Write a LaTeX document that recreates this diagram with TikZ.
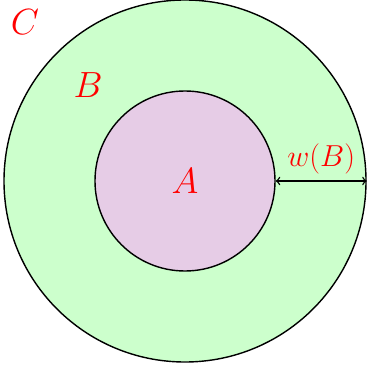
\documentclass[tikz,border=0pt]{standalone}
\begin{document}
\begin{tikzpicture}[x=0.02cm,y=0.02cm]
			\definecolor{setgreen}{RGB}{204,255,204};\definecolor{setpurple}{RGB}{230,204,230};
			\tikzset{setlabel/.style={text=red,font=\huge},
				setdisk/.style={circle,draw,thick,inner sep=0pt}}
			\useasboundingbox (-185,-190) rectangle (182,181);
			\node[setdisk,fill=setgreen,minimum size=362*0.02cm] (outer) at (0,0) {};
			\node[setdisk,fill=setpurple,minimum size=180*0.02cm] (inner) at (0,0) {};
			\node[setlabel] (A) at (0,0) {$A$};
			\node[setlabel] (B) at (-97,96) {$B$};
			\node[setlabel] (C) at (-160,159) {$C$};
			\draw[<->,thick] (inner.east)--(outer.east) node[midway,above,setlabel,font=\fontsize{18}{22}\selectfont]{$w(B)$};
		\end{tikzpicture}
\end{document}
